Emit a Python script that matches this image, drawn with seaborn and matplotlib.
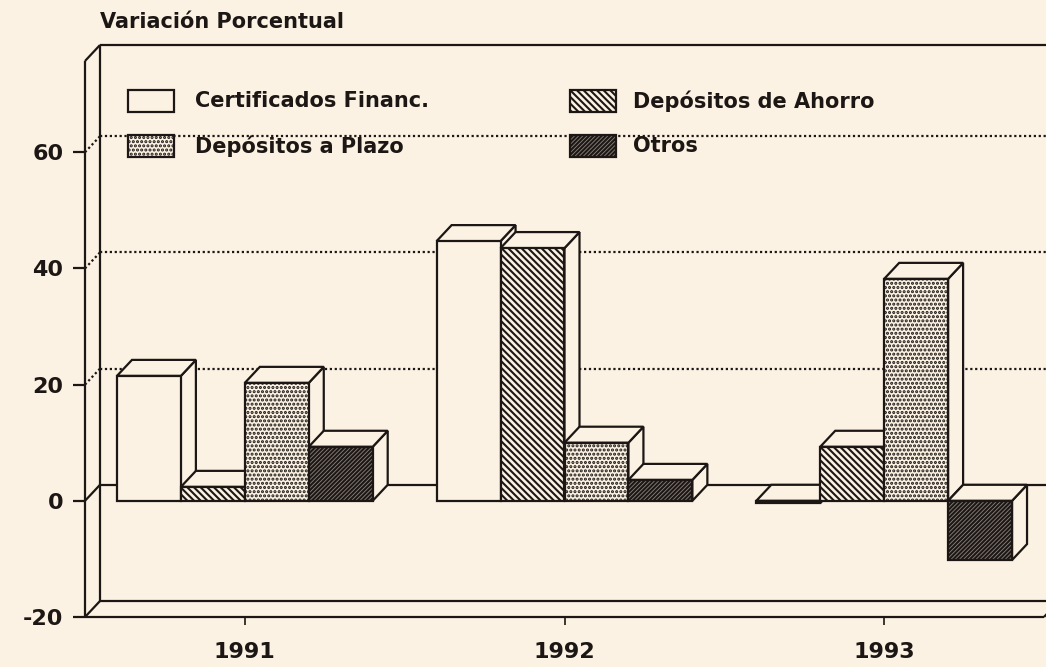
import numpy as np
import pandas as pd
import matplotlib
matplotlib.use("Agg")
import matplotlib.pyplot as plt
import seaborn as sns
from matplotlib.patches import Polygon, Rectangle

# ---------------- data ----------------
years = ["1991", "1992", "1993"]
series = ["Certificados Financ.", "Depósitos de Ahorro", "Depósitos a Plazo", "Otros"]
cert = [21.5, 44.7, -0.4]
ahorro = [2.4, 43.5, 9.3]
plazo = [20.3, 10.0, 38.2]
otros = [9.3, 3.6, -10.2]
yticks = [-20, 0, 20, 40, 60]
ytick_labels = ["-20", "0", "20", "40", "60"]
title = "Variación Porcentual"

# ---------------- style ----------------
BG = "#FBF2E3"
INK = "#1c1714"
DARK = "#8a827b"
LW = 1.6

sns.set_theme(style="white")
plt.rcParams["font.family"] = ["DejaVu Sans"]
plt.rcParams["hatch.linewidth"] = 1.5
plt.rcParams["hatch.color"] = INK

rows = []
for name, vals in zip(series, [cert, ahorro, plazo, otros]):
    for yr, v in zip(years, vals):
        rows.append({"year": yr, "serie": name, "value": v})
df = pd.DataFrame(rows)

W, H = 1046, 667
fig = plt.figure(figsize=(W / 100, H / 100), dpi=100, facecolor=BG)
ax = fig.add_axes([85 / W, 50 / H, 959 / W, 556 / H])
ax.patch.set_visible(False)

fills = [BG, BG, BG, DARK]
hatches = [None, "\\" * 5, "." * 4, "/" * 8]

sns.barplot(data=df, x="year", y="value", hue="serie", order=years,
            hue_order=series, palette=fills, edgecolor=INK, linewidth=LW,
            saturation=1, width=0.8, legend=False, errorbar=None, ax=ax)

YMIN, YMAX = -20, 75.7
XMIN, XMAX = -0.5, 2.5
ax.set_xlim(XMIN, XMAX)
ax.set_ylim(YMIN, YMAX)
for s in ax.spines.values():
    s.set_visible(False)

# depth offsets in data units
ppx = 959 / (XMAX - XMIN)
ppy = 556 / (YMAX - YMIN)
ddx = 15 / ppx
ddy = 16 / ppy

bars = []
for i, cont in enumerate(ax.containers):
    for p in cont.patches:
        p.set_hatch(hatches[i])
        bars.append(p)
bars.sort(key=lambda p: p.get_x())

for k, p in enumerate(bars):
    x0, w = p.get_x(), p.get_width()
    y0, h = p.get_y(), p.get_height()
    top, bot = max(y0, y0 + h), min(y0, y0 + h)
    z = 3 + k * 0.1
    side = Polygon([(x0 + w, bot), (x0 + w, top), (x0 + w + ddx, top + ddy),
                    (x0 + w + ddx, bot + ddy)], closed=True, facecolor=BG,
                   edgecolor=INK, lw=LW, zorder=z, joinstyle="miter")
    topf = Polygon([(x0, top), (x0 + w, top), (x0 + w + ddx, top + ddy),
                    (x0 + ddx, top + ddy)], closed=True, facecolor=BG,
                   edgecolor=INK, lw=LW, zorder=z + 0.01, joinstyle="miter")
    ax.add_patch(side)
    ax.add_patch(topf)
    p.set_zorder(z + 0.05)
    p.set_joinstyle("miter")

# ---------------- box / walls ----------------
XR = XMAX + ddx + 0.2
line_kw = dict(color=INK, lw=LW, clip_on=False, zorder=1, solid_capstyle="butt")
# left wall
ax.plot([XMIN, XMIN], [YMIN, YMAX], **line_kw)
ax.plot([XMIN + ddx, XMIN + ddx], [YMIN + ddy, YMAX + ddy], **line_kw)
ax.plot([XMIN, XMIN + ddx], [YMAX, YMAX + ddy], **line_kw)
ax.plot([XMIN + ddx, XR], [YMAX + ddy, YMAX + ddy], **line_kw)
# floor
ax.plot([XMIN, XMAX], [YMIN, YMIN], **line_kw)
ax.plot([XMIN + ddx, XR], [YMIN + ddy, YMIN + ddy], **line_kw)
ax.plot([XMIN, XMIN + ddx], [YMIN, YMIN + ddy], **line_kw)
ax.plot([XMAX, XMAX + ddx], [YMIN, YMIN + ddy], **line_kw)
# zero plane
ax.plot([XMIN, XMIN + ddx], [0, ddy], **line_kw)
ax.plot([XMIN + ddx, XR], [ddy, ddy], **line_kw)
# grid lines on the back wall
for g in [20, 40, 60]:
    ax.plot([XMIN, XMIN + ddx], [g, g + ddy], color=INK, lw=1.6,
            ls=(0, (1, 1.2)), clip_on=False, zorder=1)
    ax.plot([XMIN + ddx, XR], [g + ddy, g + ddy], color=INK, lw=1.6,
            ls=(0, (1, 1.2)), clip_on=False, zorder=1)

# ---------------- ticks ----------------
ax.set_yticks(yticks, ytick_labels)
ax.set_xticks(range(len(years)), years)
ax.set_xlabel("")
ax.set_ylabel("")
ax.tick_params(axis="y", left=True, length=8.6, width=LW, color=INK, pad=7,
               labelsize=16, labelcolor=INK)
ax.tick_params(axis="x", bottom=True, length=6, width=1.2, color=INK, pad=12,
               labelsize=16, labelcolor=INK)
for lbl in ax.get_xticklabels() + ax.get_yticklabels():
    lbl.set_fontweight("bold")

# ---------------- title ----------------
fig.text(100 / W, 1 - 22 / H, title, ha="left", va="center", fontsize=15,
         fontweight="bold", color=INK)

# ---------------- legend ----------------
leg_items = [  # (series index, box x, box y, text x)
    (0, 128, 90, 195),
    (2, 128, 135, 195),
    (1, 570, 90, 633),
    (3, 570, 135, 633),
]
for idx, bx, by, tx in leg_items:
    bw, bh = 46, 22
    r = Rectangle((bx / W, 1 - (by + bh) / H), bw / W, bh / H,
                  transform=fig.transFigure, facecolor=fills[idx],
                  edgecolor=INK, lw=LW, hatch=hatches[idx])
    fig.add_artist(r)
    fig.text(tx / W, 1 - (by + bh / 2) / H, series[idx], ha="left",
             va="center", fontsize=15, fontweight="bold", color=INK)

fig.savefig("out.png", dpi=100, facecolor=BG)
